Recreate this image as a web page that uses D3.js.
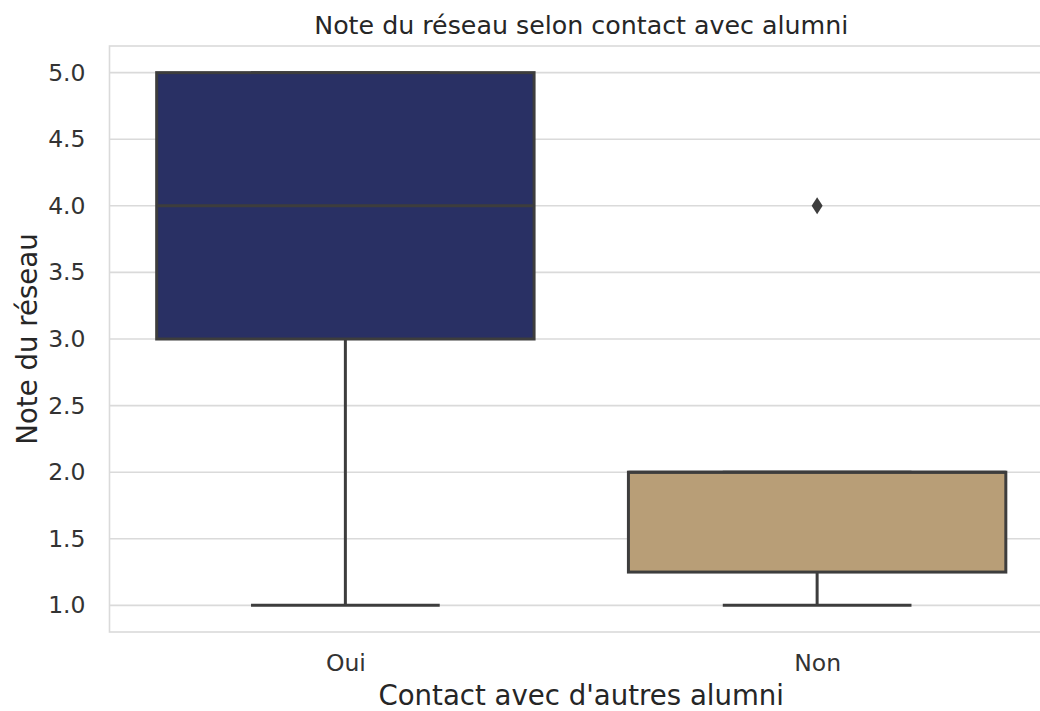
<!DOCTYPE html>
<html>
<head>
<meta charset="utf-8">
<script src="https://cdn.jsdelivr.net/npm/d3@7"></script>
<style>
  html, body { margin: 0; padding: 0; background: #ffffff; }
  svg { display: block; font-family: "DejaVu Sans", sans-serif; }
</style>
</head>
<body>
<svg id="chart" width="1040" height="711"></svg>
<script>
// Box-plot summary per group
const categories = ["Oui", "Non"];
const q1Values = [3.0, 1.25];
const medianValues = [4.0, 2.0];
const q3Values = [5.0, 2.0];
const whiskerLow = [1.0, 1.0];
const whiskerHigh = [5.0, 2.0];
const outliers = [[], [4.0]];
const fillColors = ["#293064", "#b89e77"];
const yTicks = [1.0, 1.5, 2.0, 2.5, 3.0, 3.5, 4.0, 4.5, 5.0];

const svg = d3.select("#chart");
const plotLeft = 109.5, plotRight = 1053, plotTop = 46, plotBottom = 632;

const x = d3.scaleLinear().domain([-0.5, categories.length - 0.5]).range([plotLeft, plotRight]);
const y = d3.scaleLinear().domain([0.8, 5.2]).range([plotBottom, plotTop]);
const boxW = x(0.8) - x(0);
const capW = x(0.4) - x(0);

const edge = "#3d3d3d";
const gridColor = "#dadada";

// Frame
svg.append("rect")
  .attr("x", plotLeft).attr("y", plotTop)
  .attr("width", plotRight - plotLeft).attr("height", plotBottom - plotTop)
  .attr("fill", "none").attr("stroke", gridColor).attr("stroke-width", 1.6);

// Horizontal grid
svg.append("g").selectAll("line").data(yTicks).join("line")
  .attr("x1", plotLeft).attr("x2", plotRight)
  .attr("y1", d => y(d)).attr("y2", d => y(d))
  .attr("stroke", gridColor).attr("stroke-width", 1.6);

// Y axis tick labels
const yAxis = d3.axisLeft(y).tickValues(yTicks).tickFormat(d3.format(".1f")).tickSize(0).tickPadding(24);
const gy = svg.append("g").attr("transform", `translate(${plotLeft},0)`).call(yAxis);
gy.select(".domain").remove();
gy.selectAll("text").attr("font-size", 23.5).attr("fill", "#333333")
  .attr("font-family", "DejaVu Sans");

// X axis tick labels
const xAxis = d3.axisBottom(x).tickValues(categories.map((c, i) => i))
  .tickFormat(i => categories[i]).tickSize(0).tickPadding(22);
const gx = svg.append("g").attr("transform", `translate(0,${plotBottom})`).call(xAxis);
gx.select(".domain").remove();
gx.selectAll("text").attr("font-size", 23.5).attr("fill", "#333333")
  .attr("font-family", "DejaVu Sans");

// Boxes
const groups = svg.append("g").selectAll("g").data(categories).join("g");

groups.append("line")
  .attr("x1", (d, i) => x(i)).attr("x2", (d, i) => x(i))
  .attr("y1", (d, i) => y(whiskerLow[i])).attr("y2", (d, i) => y(q1Values[i]))
  .attr("stroke", edge).attr("stroke-width", 3);
groups.append("line")
  .attr("x1", (d, i) => x(i)).attr("x2", (d, i) => x(i))
  .attr("y1", (d, i) => y(whiskerHigh[i])).attr("y2", (d, i) => y(q3Values[i]))
  .attr("stroke", edge).attr("stroke-width", 3);
groups.append("line")
  .attr("x1", (d, i) => x(i) - capW / 2).attr("x2", (d, i) => x(i) + capW / 2)
  .attr("y1", (d, i) => y(whiskerLow[i])).attr("y2", (d, i) => y(whiskerLow[i]))
  .attr("stroke", edge).attr("stroke-width", 3);
groups.append("line")
  .attr("x1", (d, i) => x(i) - capW / 2).attr("x2", (d, i) => x(i) + capW / 2)
  .attr("y1", (d, i) => y(whiskerHigh[i])).attr("y2", (d, i) => y(whiskerHigh[i]))
  .attr("stroke", edge).attr("stroke-width", 3);
groups.append("rect")
  .attr("x", (d, i) => x(i) - boxW / 2).attr("width", boxW)
  .attr("y", (d, i) => y(q3Values[i]))
  .attr("height", (d, i) => y(q1Values[i]) - y(q3Values[i]))
  .attr("fill", (d, i) => fillColors[i])
  .attr("stroke", edge).attr("stroke-width", 3);
groups.append("line")
  .attr("x1", (d, i) => x(i) - boxW / 2).attr("x2", (d, i) => x(i) + boxW / 2)
  .attr("y1", (d, i) => y(medianValues[i])).attr("y2", (d, i) => y(medianValues[i]))
  .attr("stroke", edge).attr("stroke-width", 3);

// Outliers as thin diamonds
groups.each(function(d, i) {
  d3.select(this).selectAll("path.flier").data(outliers[i]).join("path")
    .attr("class", "flier")
    .attr("d", "M0,-8.5L5.5,0L0,8.5L-5.5,0Z")
    .attr("transform", v => `translate(${x(i)},${y(v)})`)
    .attr("fill", edge);
});

// Titles
svg.append("text")
  .attr("x", (plotLeft + plotRight) / 2).attr("y", 34)
  .attr("text-anchor", "middle").attr("font-size", 25.3).attr("fill", "#262626")
  .text("Note du réseau selon contact avec alumni");

svg.append("text")
  .attr("x", (plotLeft + plotRight) / 2).attr("y", 705)
  .attr("text-anchor", "middle").attr("font-size", 27.6).attr("fill", "#262626")
  .text("Contact avec d'autres alumni");

svg.append("text")
  .attr("transform", `translate(37,${(plotTop + plotBottom) / 2}) rotate(-90)`)
  .attr("text-anchor", "middle").attr("font-size", 27.6).attr("fill", "#262626")
  .text("Note du réseau");
</script>
</body>
</html>
